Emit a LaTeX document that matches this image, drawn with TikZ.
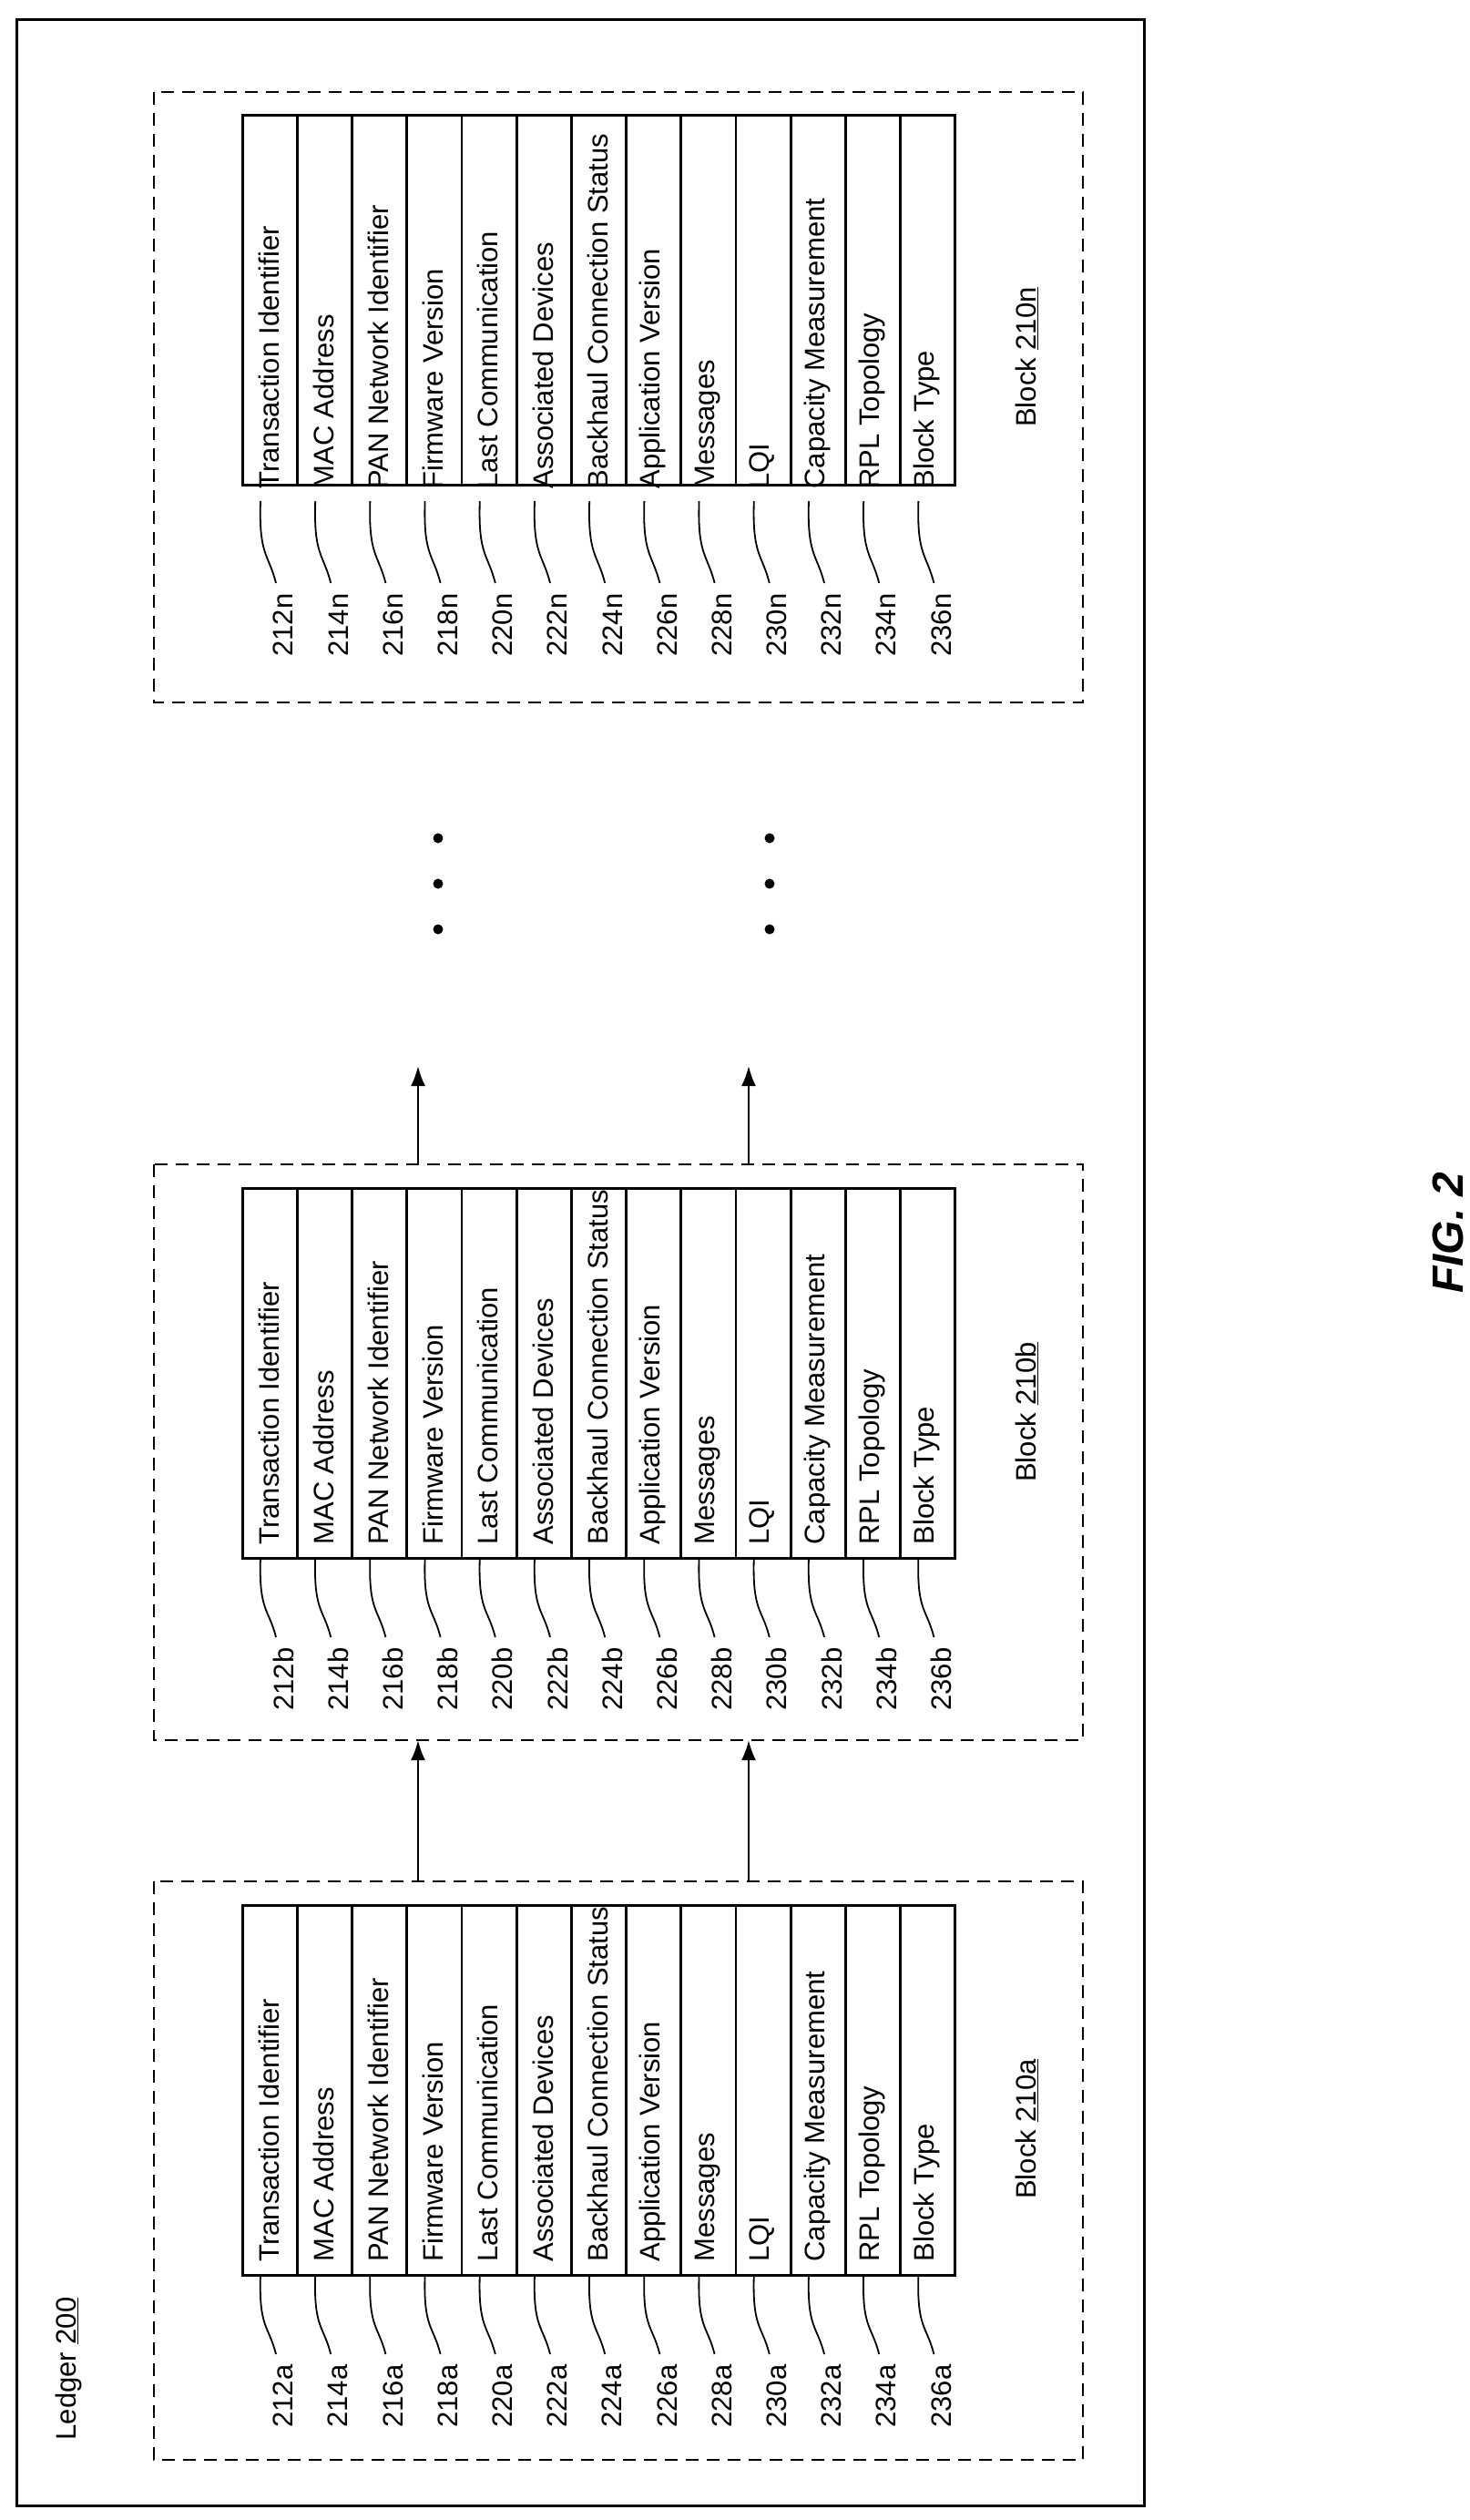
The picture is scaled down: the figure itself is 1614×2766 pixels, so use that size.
\documentclass[tikz,border=0pt]{standalone}
\usepackage{fontspec}
\setmainfont{Liberation Sans}
\usetikzlibrary{arrows.meta}
\begin{document}
\begin{tikzpicture}[x=1pt,y=-1pt,
  dashbox/.style={draw,line width=2.5pt,dash pattern=on 14pt off 9pt},
  cell/.style={draw,line width=2.5pt,minimum width=60pt,minimum height=406pt,inner sep=0pt},
  ctext/.style={rotate=90,anchor=west,font=\fontsize{31}{36}\selectfont},
  lbl/.style={rotate=90,anchor=east,font=\fontsize{31}{36}\selectfont},
  blbl/.style={rotate=90,font=\fontsize{31}{36}\selectfont},
  lead/.style={line width=1.8pt},
  arr/.style={line width=2.5pt,-{Latex[length=22pt,width=16pt]}},
  dot/.style={circle,fill,inner sep=0pt,minimum size=11pt}]
\useasboundingbox (0,0) rectangle (1614,2766);
\draw[line width=3pt] (18,21) rectangle (1256,2750);
\node[blbl] (ledger) at (75,2600) {Ledger \underline{200}};
\def\names{{"Transaction Identifier","MAC Address","PAN Network Identifier","Firmware Version","Last Communication","Associated Devices","Backhaul Connection Status","Application Version","Messages","LQI","Capacity Measurement","RPL Topology","Block Type"}}
\foreach \s/\dt/\db/\tt/\tb/\lt/\bl in {a/2065/2700/2090/2496/2592/2337, b/1278/1910/1303/1709/1805/1550, n/101/771/125/550/648/392}{
  \draw[dashbox] (169,\dt) rectangle (1189,\db);
  \node[blbl] (blk\s) at (1127,\bl) {Block \underline{210\s}};
  \foreach \i in {0,...,12}{
    \pgfmathsetmacro\xl{265+60.2*\i}
    \pgfmathsetmacro\num{int(212+2*\i)}
    \pgfmathsetmacro\txt{\names[\i]}
    \node[cell,anchor=north west] (c\s\i) at (\xl,\tt) {};
    \node[ctext] (t\s\i) at (\xl+30.1,\tb-10) {\txt};
    \node[lbl] (l\s\i) at (\xl+46,\lt) {\num\s};
    \draw[lead] (\xl+21,\tb) .. controls (\xl+19,\tb+60) and (\xl+30,\lt-40) .. (\xl+38,\lt-8);
  }
}
\coordinate (a1) at (459,2065); \coordinate (a1e) at (459,1910);
\coordinate (a2) at (822,2065); \coordinate (a2e) at (822,1910);
\coordinate (b1) at (459,1278); \coordinate (b1e) at (459,1170);
\coordinate (b2) at (822,1278); \coordinate (b2e) at (822,1170);
\draw[arr] (a1) -- (a1e); \draw[arr] (a2) -- (a2e);
\draw[arr] (b1) -- (b1e); \draw[arr] (b2) -- (b2e);
\foreach \x [count=\k] in {481,845}{
  \foreach \y [count=\j] in {920,970,1020}{ \node[dot] (d\k\j) at (\x,\y) {}; }
}
\node[rotate=90,font=\bfseries\itshape\fontsize{48}{56}\selectfont] (fig) at (1590,1353) {FIG. 2};
\end{tikzpicture}
\end{document}
